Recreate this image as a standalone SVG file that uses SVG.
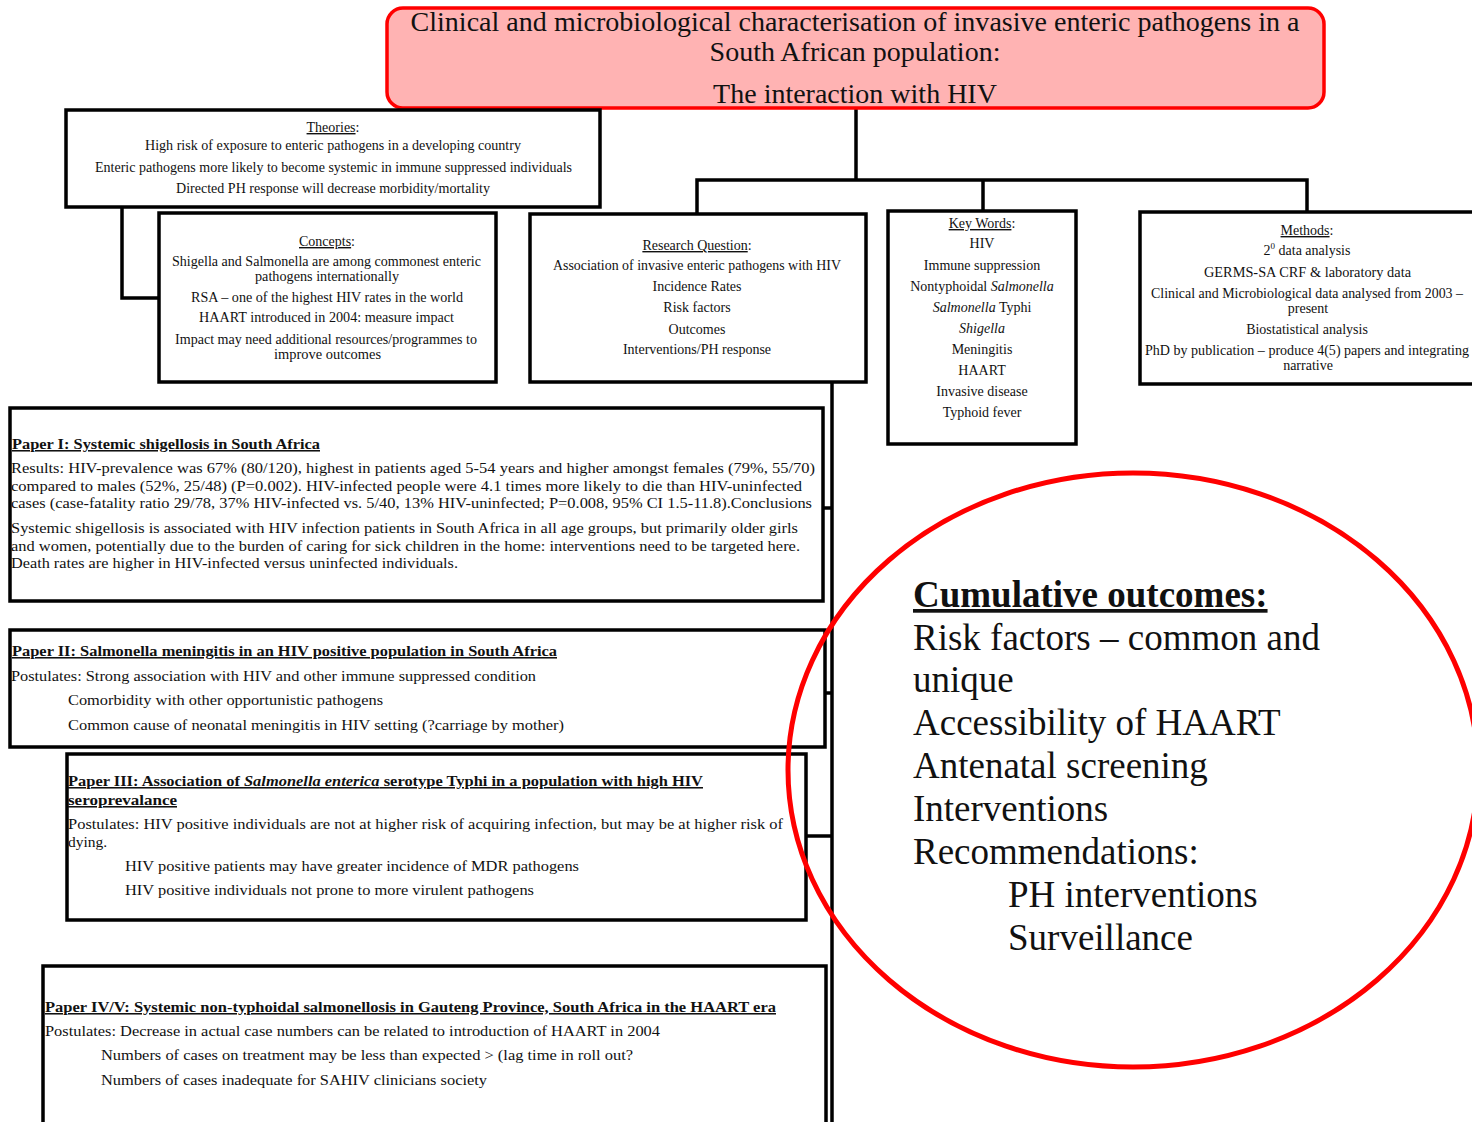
<svg xmlns="http://www.w3.org/2000/svg" width="1472" height="1122" viewBox="0 0 1472 1122">
  <style>
    text { font-family: "Liberation Serif", "Times New Roman", serif; fill: #111; }
    .box { fill: #fff; stroke: #000; stroke-width: 3.5; }
    .title-box { fill: #ffb3b3; stroke: #f00; stroke-width: 3.5; }
    .title { font-size: 28px; text-anchor: middle; }
    .sm { font-size: 14px; }
    .c { text-anchor: middle; }
    .u { text-decoration: underline; }
    .it { font-style: italic; }
    .p { font-size: 15.5px; }
    .ph { font-size: 15.5px; font-weight: bold; text-decoration: underline; }
    .wire { fill: none; stroke: #000; stroke-width: 3.5; }
    .ring { fill: none; stroke: #f00; stroke-width: 5; }
    .big { font-size: 37px; }
  </style>

  <!-- connectors -->
  <g id="connectors">
    <path class="wire" d="M856,108 V180"/>
    <path class="wire" d="M697,214 V180 H1307 V212"/>
    <path class="wire" d="M983,180 V211"/>
    <path class="wire" d="M122,207 V298 H159"/>
    <path class="wire" d="M832,382 V1122"/>
    <path class="wire" d="M823,508 H832"/>
    <path class="wire" d="M825,693 H832"/>
    <path class="wire" d="M806,836 H832"/>
  </g>

  <!-- title -->
  <g id="title">
    <rect class="title-box" x="387" y="8" width="937" height="100" rx="16"/>
    <text class="title" x="855" y="31" textLength="889" lengthAdjust="spacingAndGlyphs">Clinical  and microbiological  characterisation of invasive  enteric pathogens in a</text>
    <text class="title" x="855" y="61">South African population:</text>
    <text class="title" x="855" y="103">The interaction with HIV</text>
  </g>

  <!-- theories -->
  <g id="theories">
    <rect class="box" x="66" y="110" width="534" height="97"/>
    <text class="sm c" x="333" y="132"><tspan class="u">Theories</tspan>:</text>
    <text class="sm" x="145" y="150" textLength="376" lengthAdjust="spacingAndGlyphs">High risk of exposure to enteric pathogens in a developing country</text>
    <text class="sm" x="95" y="172" textLength="477" lengthAdjust="spacingAndGlyphs">Enteric pathogens more likely to become systemic in immune suppressed individuals</text>
    <text class="sm" x="176" y="193" textLength="314" lengthAdjust="spacingAndGlyphs">Directed PH response will decrease morbidity/mortality</text>
  </g>

  <!-- concepts -->
  <g id="concepts">
    <rect class="box" x="159" y="213" width="337" height="169"/>
    <text class="sm c" x="327" y="246"><tspan class="u">Concepts</tspan>:</text>
    <text class="sm" x="172" y="266" textLength="309" lengthAdjust="spacingAndGlyphs">Shigella and Salmonella are among commonest enteric</text>
    <text class="sm" x="255" y="281" textLength="144" lengthAdjust="spacingAndGlyphs">pathogens internationally</text>
    <text class="sm" x="191" y="302" textLength="272" lengthAdjust="spacingAndGlyphs">RSA – one of the highest HIV rates in the world</text>
    <text class="sm" x="199" y="322" textLength="255" lengthAdjust="spacingAndGlyphs">HAART introduced in 2004: measure impact</text>
    <text class="sm" x="175" y="344" textLength="302" lengthAdjust="spacingAndGlyphs">Impact may need additional resources/programmes to</text>
    <text class="sm" x="274" y="359" textLength="107" lengthAdjust="spacingAndGlyphs">improve outcomes</text>
  </g>

  <!-- research question -->
  <g id="research-question">
    <rect class="box" x="530" y="214" width="336" height="168"/>
    <text class="sm c" x="697" y="250"><tspan class="u">Research Question</tspan>:</text>
    <text class="sm" x="553" y="270" textLength="288" lengthAdjust="spacingAndGlyphs">Association of invasive enteric pathogens with HIV</text>
    <text class="sm c" x="697" y="291">Incidence Rates</text>
    <text class="sm c" x="697" y="312">Risk factors</text>
    <text class="sm c" x="697" y="334">Outcomes</text>
    <text class="sm c" x="697" y="354">Interventions/PH response</text>
  </g>

  <!-- key words -->
  <g id="key-words">
    <rect class="box" x="888" y="211" width="188" height="233"/>
    <text class="sm c" x="982" y="228"><tspan class="u">Key Words</tspan>:</text>
    <text class="sm c" x="982" y="248">HIV</text>
    <text class="sm c" x="982" y="270">Immune suppression</text>
    <text class="sm c" x="982" y="291">Nontyphoidal <tspan class="it">Salmonella</tspan></text>
    <text class="sm c" x="982" y="312"><tspan class="it">Salmonella</tspan> Typhi</text>
    <text class="sm c it" x="982" y="333">Shigella</text>
    <text class="sm c" x="982" y="354">Meningitis</text>
    <text class="sm c" x="982" y="375">HAART</text>
    <text class="sm c" x="982" y="396">Invasive disease</text>
    <text class="sm c" x="982" y="417">Typhoid fever</text>
  </g>

  <!-- methods -->
  <g id="methods">
    <rect class="box" x="1140" y="212" width="345" height="172"/>
    <text class="sm c" x="1307" y="235"><tspan class="u">Methods</tspan>:</text>
    <text class="sm c" x="1307" y="255">2<tspan font-size="9" dy="-6">0</tspan><tspan dy="6"> data analysis</tspan></text>
    <text class="sm" x="1204" y="277" textLength="207" lengthAdjust="spacingAndGlyphs">GERMS-SA CRF &amp; laboratory data</text>
    <text class="sm" x="1151" y="298" textLength="312" lengthAdjust="spacingAndGlyphs">Clinical and Microbiological data analysed from 2003 –</text>
    <text class="sm c" x="1308" y="313">present</text>
    <text class="sm c" x="1307" y="334">Biostatistical analysis</text>
    <text class="sm" x="1145" y="355" textLength="324" lengthAdjust="spacingAndGlyphs">PhD by publication – produce 4(5) papers and integrating</text>
    <text class="sm c" x="1308" y="370">narrative</text>
  </g>

  <!-- paper I -->
  <g id="paper-1">
    <rect class="box" x="10" y="408" width="813" height="193"/>
    <text class="ph" x="12" y="449" textLength="308" lengthAdjust="spacingAndGlyphs">Paper I: Systemic shigellosis in South Africa</text>
    <text class="p" x="11" y="473" textLength="804" lengthAdjust="spacingAndGlyphs">Results:  HIV-prevalence was 67% (80/120), highest in patients aged 5-54 years and higher amongst females (79%, 55/70)</text>
    <text class="p" x="11" y="491" textLength="791" lengthAdjust="spacingAndGlyphs">compared to males (52%, 25/48) (P=0.002). HIV-infected people were 4.1 times more likely  to die than HIV-uninfected</text>
    <text class="p" x="11" y="508" textLength="801" lengthAdjust="spacingAndGlyphs">cases (case-fatality ratio 29/78,  37% HIV-infected vs. 5/40,  13% HIV-uninfected; P=0.008, 95% CI 1.5-11.8).Conclusions</text>
    <text class="p" x="11" y="533" textLength="787" lengthAdjust="spacingAndGlyphs">Systemic shigellosis  is  associated with HIV infection patients in South Africa in all age groups, but primarily  older girls</text>
    <text class="p" x="11" y="551" textLength="789" lengthAdjust="spacingAndGlyphs">and women, potentially  due to the burden of caring  for sick children  in the home:  interventions  need to be targeted here.</text>
    <text class="p" x="11" y="568" textLength="447" lengthAdjust="spacingAndGlyphs">Death rates are higher in HIV-infected versus uninfected individuals.</text>
  </g>

  <!-- paper II -->
  <g id="paper-2">
    <rect class="box" x="10" y="630" width="815" height="117"/>
    <text class="ph" x="12" y="656" textLength="545" lengthAdjust="spacingAndGlyphs">Paper II: Salmonella meningitis in an HIV positive population in South Africa</text>
    <text class="p" x="11" y="681" textLength="525" lengthAdjust="spacingAndGlyphs">Postulates: Strong association  with HIV and other immune  suppressed condition</text>
    <text class="p" x="68" y="705" textLength="315" lengthAdjust="spacingAndGlyphs">Comorbidity  with other opportunistic  pathogens</text>
    <text class="p" x="68" y="730" textLength="496" lengthAdjust="spacingAndGlyphs">Common cause of neonatal meningitis  in  HIV setting (?carriage by mother)</text>
  </g>

  <!-- paper III -->
  <g id="paper-3">
    <rect class="box" x="67" y="754" width="739" height="166"/>
    <text class="ph" x="68" y="786" textLength="635" lengthAdjust="spacingAndGlyphs">Paper III: Association of <tspan class="it">Salmonella enterica</tspan> serotype Typhi in a population with high HIV</text>
    <text class="ph" x="68" y="805" textLength="109" lengthAdjust="spacingAndGlyphs">seroprevalance</text>
    <text class="p" x="68" y="829" textLength="715" lengthAdjust="spacingAndGlyphs">Postulates: HIV positive  individuals   are not at higher  risk of acquiring  infection,  but may be at higher risk of</text>
    <text class="p" x="68" y="847">dying.</text>
    <text class="p" x="125" y="871" textLength="454" lengthAdjust="spacingAndGlyphs">HIV positive  patients may have greater incidence  of MDR pathogens</text>
    <text class="p" x="125" y="895" textLength="409" lengthAdjust="spacingAndGlyphs">HIV positive  individuals   not prone to more virulent  pathogens</text>
  </g>

  <!-- paper IV/V -->
  <g id="paper-4-5">
    <rect class="box" x="43" y="966" width="783" height="175"/>
    <text class="ph" x="45" y="1012" textLength="731" lengthAdjust="spacingAndGlyphs">Paper IV/V: Systemic non-typhoidal salmonellosis in Gauteng Province, South Africa in the HAART era</text>
    <text class="p" x="45" y="1036" textLength="615" lengthAdjust="spacingAndGlyphs">Postulates: Decrease in actual case numbers can be related to introduction  of HAART in 2004</text>
    <text class="p" x="101" y="1060" textLength="532" lengthAdjust="spacingAndGlyphs">Numbers of cases on treatment may be less than expected &gt; (lag time in roll out?</text>
    <text class="p" x="101" y="1085" textLength="386" lengthAdjust="spacingAndGlyphs">Numbers of cases inadequate for SAHIV clinicians  society</text>
  </g>

  <!-- cumulative outcomes -->
  <g id="outcomes">
    <ellipse class="ring" cx="1133" cy="770" rx="345" ry="297"/>
    <text class="big" x="913" y="607" font-weight="bold" text-decoration="underline">Cumulative outcomes:</text>
    <text class="big" x="913" y="650">Risk factors – common and</text>
    <text class="big" x="913" y="692">unique</text>
    <text class="big" x="913" y="735">Accessibility of HAART</text>
    <text class="big" x="913" y="778">Antenatal screening</text>
    <text class="big" x="913" y="821">Interventions</text>
    <text class="big" x="913" y="864">Recommendations:</text>
    <text class="big" x="1008" y="907">PH interventions</text>
    <text class="big" x="1008" y="950">Surveillance</text>
  </g>
</svg>
